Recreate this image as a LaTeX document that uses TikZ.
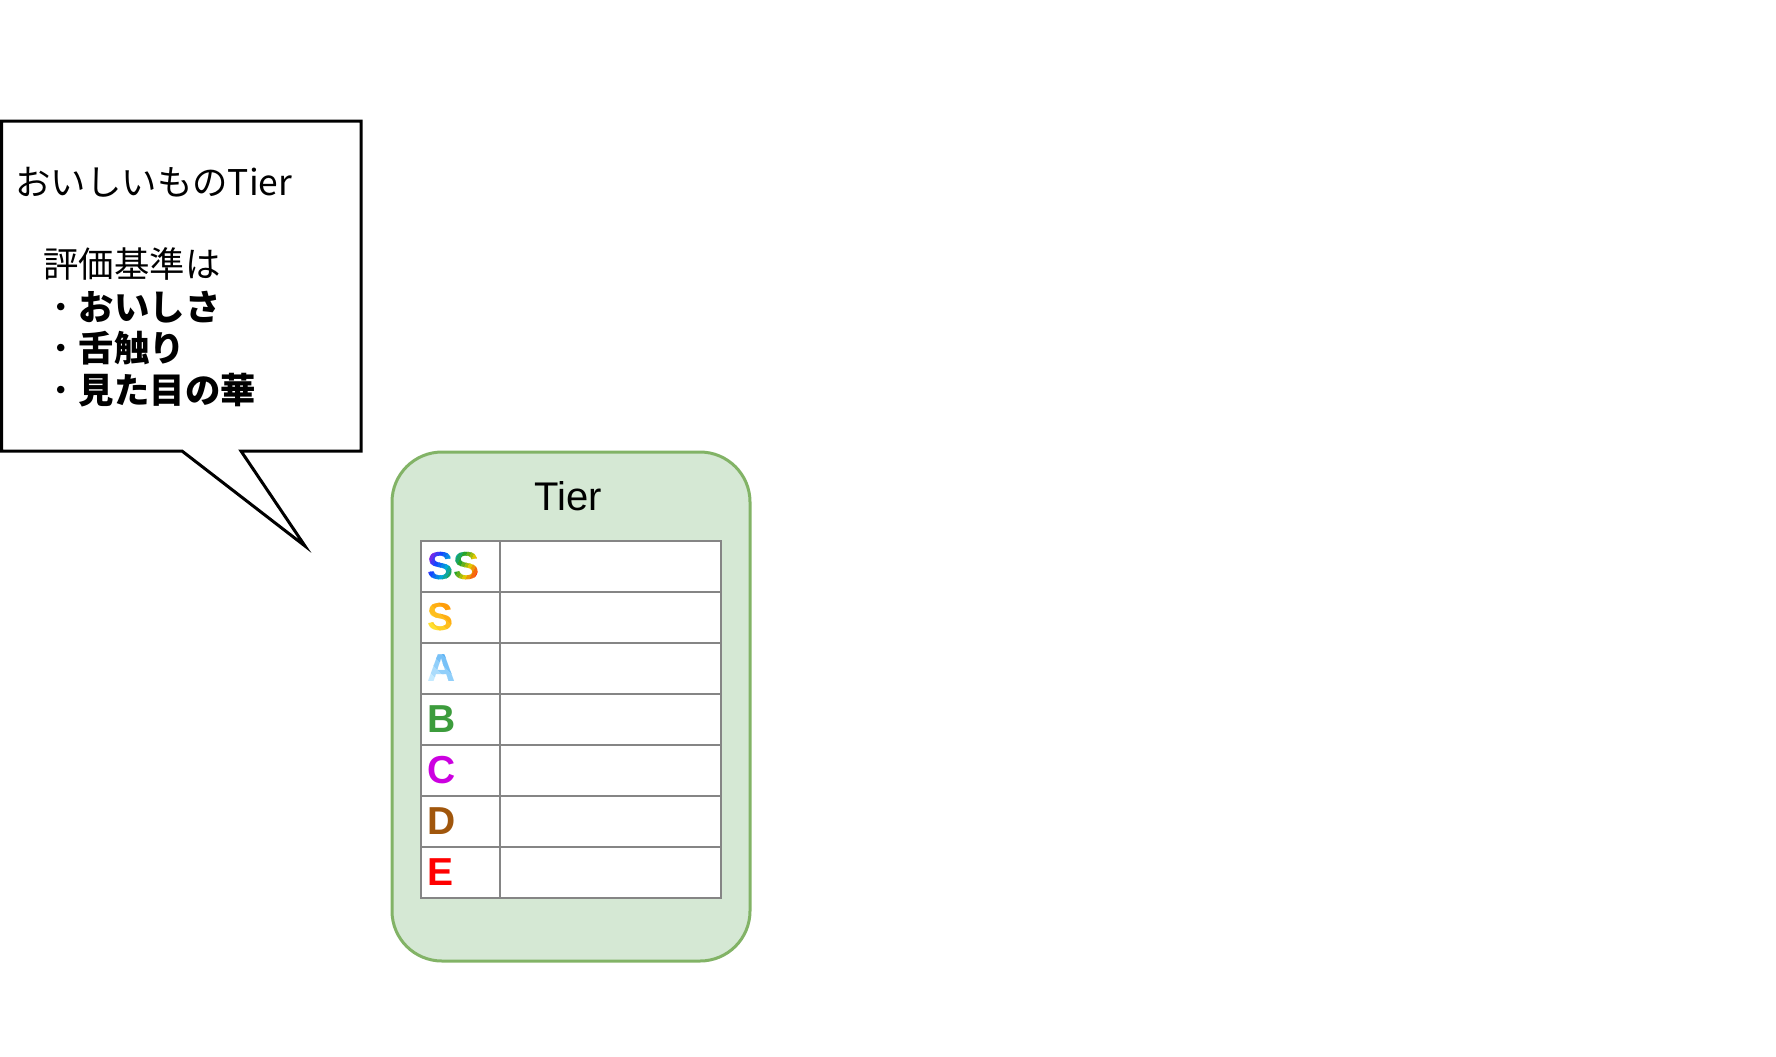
\documentclass[tikz,border=0pt]{standalone}
\usepackage{fontspec}
\newfontfamily\jpfont{Noto Sans CJK JP}
\newfontfamily\letterfont{Liberation Sans}
\definecolor{tierfill}{HTML}{D5E8D4}
\definecolor{tierline}{HTML}{82B366}
\definecolor{gridgray}{HTML}{858585}
\definecolor{gv}{HTML}{9A1EE0}
\definecolor{gb}{HTML}{1446FF}
\definecolor{gc}{HTML}{00A8D8}
\definecolor{gg}{HTML}{28A428}
\definecolor{gy}{HTML}{E0C800}
\definecolor{go}{HTML}{FF3A14}
\definecolor{sor}{HTML}{FF8C00}
\definecolor{syl}{HTML}{FFE030}
\definecolor{ablue}{HTML}{45A6F2}
\definecolor{alight}{HTML}{C4EAFF}
\definecolor{lettB}{HTML}{3C9C3C}
\definecolor{lettC}{HTML}{CC00E0}
\definecolor{lettD}{HTML}{A0560C}
\definecolor{lettE}{HTML}{FF0000}
\tikzset{
  calltext/.style={font=\jpfont\fontsize{17.7pt}{21pt}\selectfont, anchor=base west, inner sep=0pt},
  lett/.style={font=\letterfont\bfseries\fontsize{19.5pt}{19.5pt}\selectfont, anchor=base west, inner sep=0pt},
  tierbox/.style={fill=tierfill, draw=tierline, line width=1.5pt, rounded corners=25pt},
  cellline/.style={draw=gridgray, line width=1.1pt, fill=white},
  callout/.style={draw=black, line width=1.5pt, fill=white, line join=miter}
}
\begin{document}
\begin{tikzpicture}[x=0.5pt,y=-0.5pt]
\useasboundingbox (0,0) rectangle (1776,1056);
% callout
\draw[callout] (1.5,121) -- (361,121) -- (361,451) -- (241,451) -- (305,546) -- (182,451) -- (1.5,451) -- cycle;
\node[calltext] (t1) at (15,195) {おいしいものTier};
\node[calltext] (t2) at (43,277) {評価基準は};
\node[calltext] (t3) at (43,320) {・\textbf{おいしさ}};
\node[calltext] (t4) at (43,361.5) {・\textbf{舌触り}};
\node[calltext] (t5) at (43,403) {・\textbf{見た目の華}};
% tier container
\draw[tierbox] (392,452) rectangle (750,961);
\node[font=\letterfont\fontsize{20pt}{20pt}\selectfont, anchor=base, inner sep=0pt] (title) at (568.5,510) {Tier};
% table
\foreach \r in {0,...,6}{
  \draw[cellline] (421,{541+51*\r}) rectangle (500,{592+51*\r});
  \draw[cellline] (500,{541+51*\r}) rectangle (721,{592+51*\r});
}
% SS rainbow (lines x + 0.5 y = c)
\foreach \col [count=\i from 0] in {gv, gv!67!gb, gv!33!gb, gb, gb!67!gc, gb!33!gc, gc, gc!67!gg, gc!33!gg, gg, gg!67!gy, gg!33!gy, gy, gy!67!go, gy!33!go, go}{
  \pgfmathsetmacro{\ca}{\i==0 ? 400 : 704+\i*3.9}
  \pgfmathsetmacro{\cb}{\i==15 ? 1200 : 704+(\i+1)*3.9+0.7}
  \begin{scope}
    \clip ({\ca-271},542) -- ({\cb-271},542) -- ({\cb-295.5},591) -- ({\ca-295.5},591) -- cycle;
    \node[lett, text=\col] (ss\i) at (427,579) {SS};
  \end{scope}
}
% S orange-yellow (lines x - y = c)
\foreach \col [count=\i from 0] in {syl, syl!80!sor, syl!60!sor, syl!40!sor, syl!20!sor, sor}{
  \pgfmathsetmacro{\ca}{\i==0 ? -600 : -200+\i*9}
  \pgfmathsetmacro{\cb}{\i==5 ? 200 : -200+(\i+1)*9+0.8}
  \begin{scope}
    \clip ({\ca+593},593) -- ({\cb+593},593) -- ({\cb+642},642) -- ({\ca+642},642) -- cycle;
    \node[lett, text=\col] (s\i) at (427,630) {S};
  \end{scope}
}
% A light blue (lines x - y = c)
\foreach \col [count=\i from 0] in {alight, alight!80!ablue, alight!60!ablue, alight!40!ablue, alight!20!ablue, ablue}{
  \pgfmathsetmacro{\ca}{\i==0 ? -600 : -252+\i*10}
  \pgfmathsetmacro{\cb}{\i==5 ? 200 : -252+(\i+1)*10+0.8}
  \begin{scope}
    \clip ({\ca+644},644) -- ({\cb+644},644) -- ({\cb+693},693) -- ({\ca+693},693) -- cycle;
    \node[lett, text=\col] (a\i) at (427,681) {A};
  \end{scope}
}
\node[lett, text=lettB] (lb) at (427,732) {B};
\node[lett, text=lettC] (lc) at (427,783) {C};
\node[lett, text=lettD] (ld) at (427,834) {D};
\node[lett, text=lettE] (le) at (427,885) {E};
\end{tikzpicture}
\end{document}
